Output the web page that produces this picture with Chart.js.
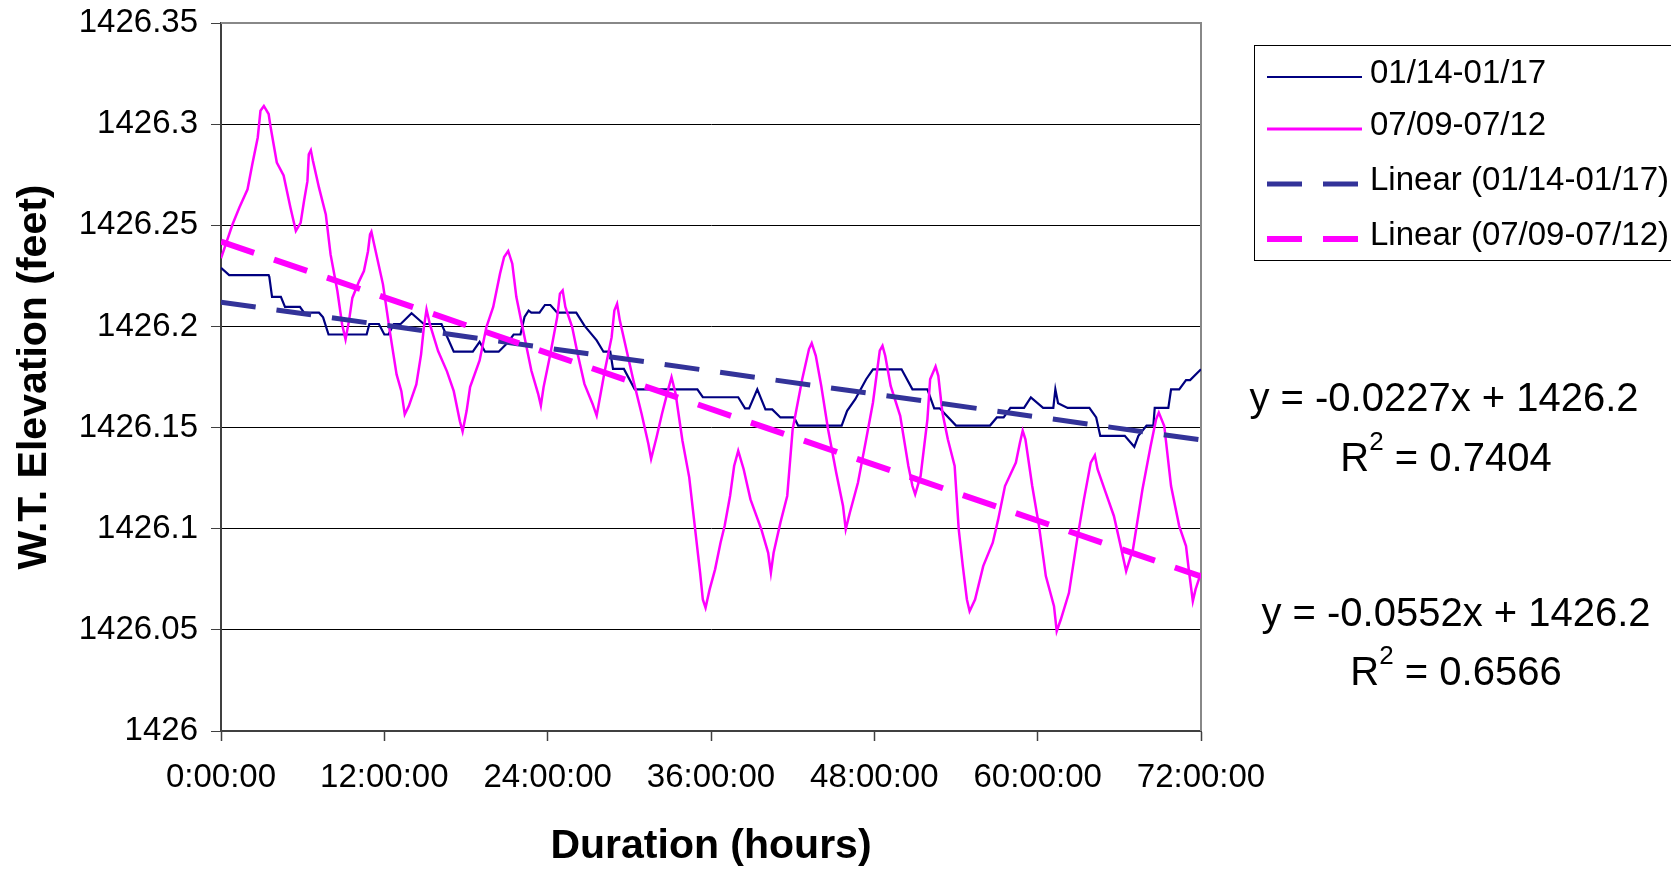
<!DOCTYPE html>
<html>
<head>
<meta charset="utf-8">
<script src="https://cdn.jsdelivr.net/npm/chart.js@4.4.1/dist/chart.umd.min.js"></script>
<style>
  html, body { margin: 0; padding: 0; background: #fff; }
  #wrap { width: 1671px; height: 871px; position: relative; }
</style>
</head>
<body>
<div id="wrap"><canvas id="chart"></canvas></div>
<script>
const FONT = '"Liberation Sans", Arial, sans-serif';

const hourTicks = [0, 12, 24, 36, 48, 60, 72];
const levelTicks = [1426, 1426.05, 1426.1, 1426.15, 1426.2, 1426.25, 1426.3, 1426.35];

const seriesNames = ['01/14-01/17', '07/09-07/12'];

// January record (logger steps are ~0.005 ft)
const janHours = [0, 0.6, 3.5, 3.55, 3.75, 4.4, 4.7, 5.8, 6.1, 7.2, 7.5, 7.9, 10.7, 10.9, 11.6, 12.0, 12.3, 12.7,
  13.2, 14.0, 14.9, 16.2, 17.1, 18.5, 19.0, 19.4, 20.4, 21.0, 21.5, 22.0, 22.3, 22.6, 22.8, 23.4, 23.8, 24.2,
  24.7, 26.1, 26.7, 27.6, 28.1, 28.6, 28.8, 29.6, 30.4, 35.0, 35.4, 38.0, 38.5, 38.8, 39.4, 40.0, 40.5, 41.1,
  42.1, 42.4, 45.6, 46.0, 46.6, 47.4, 47.9, 50.0, 50.8, 51.9, 52.4, 52.8, 54.0, 56.5, 57.0, 57.5, 58.0, 59.0,
  59.5, 60.4, 61.15, 61.3, 61.5, 62.2, 63.8, 64.3, 64.6, 66.4, 67.1, 67.4, 68.0, 68.5, 68.6, 69.6, 69.8, 70.4,
  70.9, 71.2, 72];
const janLevels = [1426.229, 1426.2254, 1426.2254, 1426.2245, 1426.2146, 1426.2146, 1426.2097, 1426.2097,
  1426.2068, 1426.2068, 1426.2045, 1426.196, 1426.196, 1426.2012, 1426.2012, 1426.196, 1426.196, 1426.2012,
  1426.2012, 1426.2065, 1426.2012, 1426.2012, 1426.1875, 1426.1875, 1426.1924, 1426.1875, 1426.1875, 1426.1915,
  1426.196, 1426.196, 1426.2047, 1426.2078, 1426.2068, 1426.2068, 1426.2106, 1426.2106, 1426.2068, 1426.2068,
  1426.2004, 1426.1931, 1426.1875, 1426.1875, 1426.179, 1426.179, 1426.1689, 1426.1689, 1426.165, 1426.165,
  1426.1595, 1426.1595, 1426.1689, 1426.159, 1426.159, 1426.155, 1426.155, 1426.151, 1426.151, 1426.1583,
  1426.164, 1426.1739, 1426.1788, 1426.1788, 1426.1689, 1426.1689, 1426.1595, 1426.1595, 1426.151, 1426.151,
  1426.155, 1426.155, 1426.1597, 1426.1597, 1426.1649, 1426.1597, 1426.1597, 1426.1689, 1426.162, 1426.1597,
  1426.1597, 1426.155, 1426.1459, 1426.1459, 1426.1405, 1426.1459, 1426.151, 1426.151, 1426.1597, 1426.1597,
  1426.1689, 1426.1689, 1426.1735, 1426.1735, 1426.1788];

// July record
const julHours = [0, 0.85, 1.35, 1.95, 2.3, 2.7, 2.9, 3.15, 3.5, 3.65, 4.1, 4.6, 5.1, 5.5, 5.85, 6.1, 6.35, 6.45,
  6.6, 6.75, 7.2, 7.7, 8.05, 8.55, 8.9, 9.15, 9.4, 9.65, 10.15, 10.5, 10.8, 10.95, 11.05, 11.25, 11.9, 12.4,
  12.9, 13.25, 13.5, 13.8, 14.35, 14.7, 14.9, 15.1, 15.35, 15.95, 16.6, 17.1, 17.55, 17.75, 18.05, 18.3, 19.0,
  19.5, 20.0, 20.5, 20.8, 21.1, 21.4, 21.7, 22.2, 22.8, 23.3, 23.5, 23.7, 24.2, 24.7, 24.9, 25.1, 25.3, 25.8,
  26.2, 26.7, 27.3, 27.6, 27.8, 28.2, 28.7, 28.9, 29.1, 29.3, 29.8, 30.3, 30.9, 31.4, 31.6, 32.0, 32.4, 32.9,
  33.1, 33.4, 33.9, 34.4, 35.2, 35.4, 35.6, 35.9, 36.3, 36.7, 37.0, 37.4, 37.7, 38.0, 38.4, 38.9, 39.7, 40.2,
  40.4, 40.6, 41.1, 41.6, 42.0, 42.7, 43.2, 43.4, 43.7, 44.1, 44.6, 45.2, 45.7, 45.9, 46.2, 46.8, 47.4, 47.9,
  48.4, 48.6, 48.8, 49.2, 49.9, 50.5, 50.8, 51.0, 51.4, 51.9, 52.1, 52.5, 52.7, 53.0, 53.4, 53.9, 54.2, 54.5,
  54.8, 55.0, 55.4, 56.0, 56.7, 57.1, 57.6, 58.4, 58.7, 58.9, 59.1, 59.6, 60.1, 60.6, 61.2, 61.4, 61.7, 62.3,
  62.9, 63.4, 63.9, 64.2, 64.4, 65.0, 65.6, 66.1, 66.5, 67.0, 67.7, 68.3, 68.7, 68.9, 69.3, 69.8, 70.4, 70.9,
  71.1, 71.4, 71.6, 72.0];
const julLevels = [1426.2337, 1426.2505, 1426.2588, 1426.2678, 1426.2802, 1426.2934, 1426.3066, 1426.309,
  1426.305, 1426.2983, 1426.281, 1426.2746, 1426.2588, 1426.2472, 1426.2512, 1426.262, 1426.2718, 1426.2851,
  1426.2871, 1426.282, 1426.2686, 1426.2554, 1426.2356, 1426.2175, 1426.201, 1426.1936, 1426.2026, 1426.2141,
  1426.2224, 1426.2274, 1426.2372, 1426.2455, 1426.2468, 1426.2406, 1426.2208, 1426.1977, 1426.1763, 1426.168,
  1426.1565, 1426.1606, 1426.1713, 1426.1862, 1426.1993, 1426.2084, 1426.201, 1426.1878, 1426.1778, 1426.168,
  1426.1531, 1426.1481, 1426.1584, 1426.17, 1426.1832, 1426.1997, 1426.2096, 1426.2261, 1426.2343, 1426.2373,
  1426.231, 1426.2145, 1426.198, 1426.1782, 1426.1667, 1426.1609, 1426.17, 1426.1865, 1426.2046, 1426.2162,
  1426.2178, 1426.2096, 1426.1997, 1426.1865, 1426.1716, 1426.1617, 1426.1559, 1426.1634, 1426.1782, 1426.1947,
  1426.2079, 1426.2112, 1426.203, 1426.1881, 1426.1733, 1426.1568, 1426.1419, 1426.1345, 1426.1452, 1426.1568,
  1426.17, 1426.1749, 1426.1667, 1426.1436, 1426.1254, 1426.0782, 1426.065, 1426.0609, 1426.07, 1426.0799,
  1426.0931, 1426.1013, 1426.1162, 1426.131, 1426.1385, 1426.1294, 1426.1145, 1426.0997, 1426.0881, 1426.0782,
  1426.0881, 1426.103, 1426.1162, 1426.1492, 1426.1739, 1426.1888, 1426.1917, 1426.1855, 1426.1706, 1426.1492,
  1426.1277, 1426.1112, 1426.0997, 1426.1079, 1426.1228, 1426.1442, 1426.1624, 1426.188, 1426.1904, 1426.1855,
  1426.1706, 1426.1558, 1426.131, 1426.1211, 1426.117, 1426.1261, 1426.1541, 1426.1739, 1426.1802, 1426.1756,
  1426.1574, 1426.1442, 1426.131, 1426.0997, 1426.0815, 1426.065, 1426.0592, 1426.065, 1426.0815, 1426.0931,
  1426.1046, 1426.1211, 1426.1327, 1426.1426, 1426.1484, 1426.1442, 1426.1211, 1426.1013, 1426.0766, 1426.0617,
  1426.0494, 1426.0551, 1426.0683, 1426.0947, 1426.1145, 1426.1327, 1426.1363, 1426.1294, 1426.1178, 1426.1063,
  1426.0914, 1426.079, 1426.0898, 1426.1195, 1426.1409, 1426.1541, 1426.1574, 1426.1508, 1426.1211, 1426.1013,
  1426.0914, 1426.0799, 1426.0642, 1426.07, 1426.0782];

// linear fits, x in days
const trendSlopes = [-0.0227, -0.0552];
const trendIntercepts = [1426.212, 1426.242];
const trendR2 = [0.7404, 0.6566];

const colors = ['#000080', '#ff00ff'];
const trendColors = ['#333399', '#ff00ff'];

function toPoints(xs, ys) {
  return xs.map((x, i) => ({ x, y: ys[i] }));
}

function trendPoints(i) {
  const m = trendSlopes[i], b = trendIntercepts[i];
  return [0, 72].map(h => ({ x: h, y: b + m * h / 24 }));
}

const datasets = [
  { label: seriesNames[0], data: toPoints(janHours, janLevels), borderColor: colors[0], borderWidth: 2.2, order: 4 },
  { label: seriesNames[1], data: toPoints(julHours, julLevels), borderColor: colors[1], borderWidth: 2.5, order: 3 },
  { label: 'Linear (' + seriesNames[0] + ')', data: trendPoints(0), borderColor: trendColors[0], borderWidth: 5,
    borderDash: [35, 21], order: 2 },
  { label: 'Linear (' + seriesNames[1] + ')', data: trendPoints(1), borderColor: trendColors[1], borderWidth: 6,
    borderDash: [35, 21], order: 1 }
];
datasets.forEach(d => {
  d.pointRadius = 0;
  d.tension = 0;
  d.fill = false;
  d.borderCapStyle = 'butt';
});

// gray frame on top/right of plot area
const plotFrame = {
  id: 'plotFrame',
  beforeDatasetsDraw(chart) {
    const { ctx, chartArea: a } = chart;
    ctx.save();
    ctx.strokeStyle = '#888';
    ctx.lineWidth = 2;
    ctx.beginPath();
    ctx.moveTo(a.left, a.top);
    ctx.lineTo(a.right, a.top);
    ctx.lineTo(a.right, a.bottom);
    ctx.stroke();
    ctx.restore();
  }
};

function drawR2(ctx, cx, cy, r2) {
  const big = '40px ' + FONT, small = '26px ' + FONT;
  const rest = ' = ' + r2.toFixed(4);
  ctx.font = big;
  const wR = ctx.measureText('R').width;
  const wRest = ctx.measureText(rest).width;
  ctx.font = small;
  const wS = ctx.measureText('2').width;
  let x = cx - (wR + wS + wRest) / 2;
  ctx.textAlign = 'left';
  ctx.font = big;
  ctx.fillText('R', x, cy);
  x += wR;
  ctx.font = small;
  ctx.fillText('2', x, cy - 17);
  x += wS;
  ctx.font = big;
  ctx.fillText(rest, x, cy);
}

const sidePanel = {
  id: 'sidePanel',
  afterDraw(chart) {
    const ctx = chart.ctx;
    ctx.save();
    // legend box
    ctx.strokeStyle = '#000';
    ctx.lineWidth = 1;
    ctx.strokeRect(1254.5, 45.5, 430, 215);
    const rowY = [77, 129, 184, 239];
    chart.data.datasets.forEach((ds, i) => {
      const y = rowY[i];
      ctx.strokeStyle = ds.borderColor;
      ctx.lineWidth = Math.round(ds.borderWidth);
      ctx.setLineDash(ds.borderDash || []);
      ctx.beginPath();
      ctx.moveTo(1267, y);
      ctx.lineTo(1362, y);
      ctx.stroke();
      ctx.setLineDash([]);
      ctx.fillStyle = '#000';
      ctx.font = '33px ' + FONT;
      ctx.textAlign = 'left';
      ctx.textBaseline = 'middle';
      ctx.fillText(ds.label, 1370, y - 3);
    });
    // trend equations
    const eqPos = [[1444, 400, 1446, 460], [1456, 615, 1456, 674]];
    eqPos.forEach((p, i) => {
      ctx.fillStyle = '#000';
      ctx.textBaseline = 'middle';
      ctx.textAlign = 'center';
      ctx.font = '40px ' + FONT;
      ctx.fillText('y = ' + trendSlopes[i] + 'x + ' + trendIntercepts[i].toFixed(1), p[0], p[1]);
      drawR2(ctx, p[2], p[3], trendR2[i]);
    });
    ctx.restore();
  }
};

new Chart(document.getElementById('chart'), {
  type: 'line',
  data: { datasets },
  options: {
    responsive: true,
    maintainAspectRatio: false,
    animation: false,
    devicePixelRatio: 1,
    layout: { padding: { left: 0, top: 23, right: 470, bottom: 0 } },
    plugins: { legend: { display: false }, tooltip: { enabled: false } },
    scales: {
      x: {
        type: 'linear',
        min: 0,
        max: 72,
        afterBuildTicks: s => { s.ticks = hourTicks.map(v => ({ value: v })); },
        afterFit: s => { s.height = 140; },
        grid: { drawOnChartArea: false, drawTicks: true, tickLength: 10, tickColor: '#404040', tickWidth: 1.5 },
        border: { display: true, color: '#404040', width: 2 },
        ticks: {
          autoSkip: false, maxRotation: 0, padding: 17, color: '#000',
          font: { family: FONT, size: 33 },
          callback: v => v + ':00:00'
        },
        title: {
          display: true, text: 'Duration (hours)', color: '#000',
          font: { family: FONT, size: 41, weight: 'bold' },
          padding: { top: 0, bottom: 0 }
        }
      },
      y: {
        min: 1426,
        max: 1426.35,
        afterBuildTicks: s => { s.ticks = levelTicks.map(v => ({ value: v })); },
        afterFit: s => {
          s.width = 221;
          s.paddingTop = 0;
          s.paddingBottom = 0;
        },
        grid: { color: '#000', lineWidth: 1, tickLength: 10, tickColor: '#404040' },
        border: { display: true, color: '#404040', width: 2 },
        ticks: {
          padding: 13, color: '#000',
          font: { family: FONT, size: 33 },
          callback: v => String(+v.toFixed(2))
        },
        title: {
          display: true, text: 'W.T. Elevation (feet)', color: '#000',
          font: { family: FONT, size: 41, weight: 'bold' },
          padding: { top: 10, bottom: 0 }
        }
      }
    }
  },
  plugins: [plotFrame, sidePanel]
});
</script>
</body>
</html>
